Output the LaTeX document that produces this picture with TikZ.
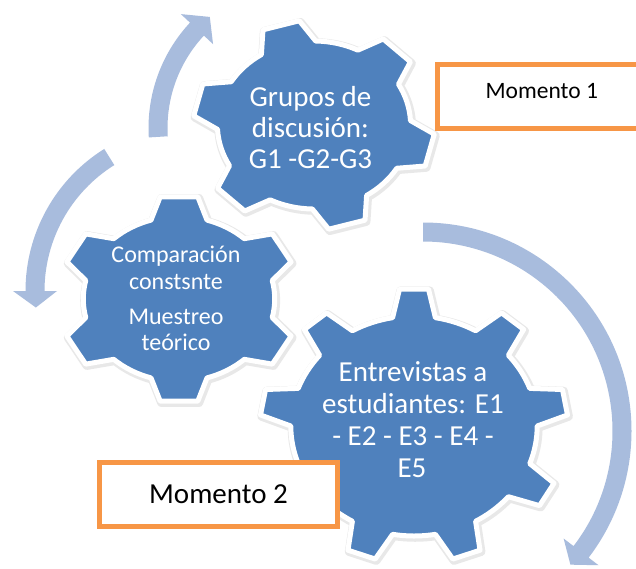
\documentclass[tikz,border=0pt]{standalone}
\usepackage{fontspec}
\setmainfont{Carlito}
\definecolor{gearblue}{RGB}{79,129,189}
\definecolor{arrowblue}{RGB}{168,188,221}
\definecolor{boxorange}{RGB}{247,150,70}
\tikzset{
  gearfill/.style={fill=gearblue, draw=white, line width=5pt, line join=round},
  gearshadow/.style={draw=black!9, line width=8.5pt, line join=round},
  cycarrow/.style={fill=arrowblue, draw=none},
  momentbox/.style={draw=boxorange, line width=5pt, fill=white, inner sep=0pt, text=black},
  bigtext/.style={text=white, anchor=base, inner sep=0pt, font=\fontsize{29}{31}\selectfont},
  smalltext/.style={text=white, anchor=base, inner sep=0pt, font=\fontsize{24}{27}\selectfont},
}
\newcommand\setgear[7]{\def\gn{#1}\def\gs{#2}\def\ga{#3}\def\gR{#4}\def\gr{#5}\def\gt{#6}\def\gb{#7}}
\newcommand\gearshape[1]{%
  \path[#1] ({\ga-\gb}:\gr)
  \foreach \k in {0,...,\gn}{
    -- ({\ga+\k*\gs-\gb}:\gr) -- ({\ga+\k*\gs-\gt}:\gR)
    -- ({\ga+\k*\gs+\gt}:\gR) -- ({\ga+\k*\gs+\gb}:\gr)
    arc[start angle={\ga+\k*\gs+\gb}, end angle={\ga+(\k+1)*\gs-\gb}, radius=\gr]
  } -- cycle;}
\newcommand\drawgear[2]{%
  \begin{scope}[shift={(#1)}, xscale=#2]
    \gearshape{gearshadow, shift={(1,-1.5)}}
    \gearshape{gearfill}
  \end{scope}}
\begin{document}
\begin{tikzpicture}[x=1pt, y=1pt]
\useasboundingbox (0,0) rectangle (636,-568);
\clip (0,0) rectangle (636,-568);
\fill[white] (0,0) rectangle (636,-568);

% gears
\setgear{8}{40}{90}{137.5}{110}{5.4}{10}
\drawgear{414,-426}{1.12}
\setgear{5}{60}{90}{103.5}{82.5}{9}{17}
\drawgear{179,-299}{1.16}
\setgear{5}{60}{106}{105}{84}{9}{17}
\drawgear{314,-125}{1.15}

% circular arrows
\begin{scope}[shift={(303,-128)}]
  \fill[cycarrow] (183.5:154.5) arc[start angle=183.5, end angle=137, radius=154.5]
    -- (137:167) -- (130:145) -- (137:123) -- (137:135.5)
    arc[start angle=137, end angle=183.5, radius=135.5] -- cycle;
\end{scope}
\begin{scope}[shift={(193,-291)}]
  \fill[cycarrow] (122:167.5) arc[start angle=122, end angle=180, radius=167.5]
    -- (180:180) -- (186:158) -- (180:136) -- (180:148.5)
    arc[start angle=180, end angle=122, radius=148.5] -- cycle;
\end{scope}
\begin{scope}[shift={(423,-431)}]
  \fill[cycarrow] (90:208.5) arc[start angle=90, end angle=-37.4, radius=208.5]
    -- (-37.4:221) -- (-42.2:199) -- (-37.4:177) -- (-37.4:189.5)
    arc[start angle=-37.4, end angle=90, radius=189.5] -- cycle;
\end{scope}

% gear texts
\node[bigtext] (g1l1) at (310.5,-106.5) {Grupos de};
\node[bigtext] (g1l2) at (310.5,-137) {discusión:};
\node[bigtext] (g1l3) at (310.5,-168) {G1 -G2-G3};
\node[smalltext] (g2l1) at (176,-262) {Comparación};
\node[smalltext] (g2l2) at (176,-289.5) {constsnte};
\node[smalltext] (g2l3) at (176,-324.3) {Muestreo};
\node[smalltext] (g2l4) at (176,-350.5) {teórico};
\node[bigtext] (g3l1) at (413,-381.7) {Entrevistas a};
\node[bigtext] (g3l2) at (413,-413.3) {estudiantes: E1};
\node[bigtext] (g3l3) at (413,-445.5) {- E2 - E3 - E4 -};
\node[bigtext] (g3l4) at (412,-477.3) {E5};

% moment boxes
\node[momentbox, minimum width=208.5pt, minimum height=63.5pt, text height=15.2pt, text depth=10pt,
      font=\fontsize{23.5}{28}\selectfont] (m1) at (541.75,-96.3) {Momento 1};
\node[momentbox, minimum width=238pt, minimum height=64pt,
      font=\fontsize{29}{34}\selectfont] (m2) at (218.5,-494.5) {Momento 2};
\end{tikzpicture}
\end{document}
